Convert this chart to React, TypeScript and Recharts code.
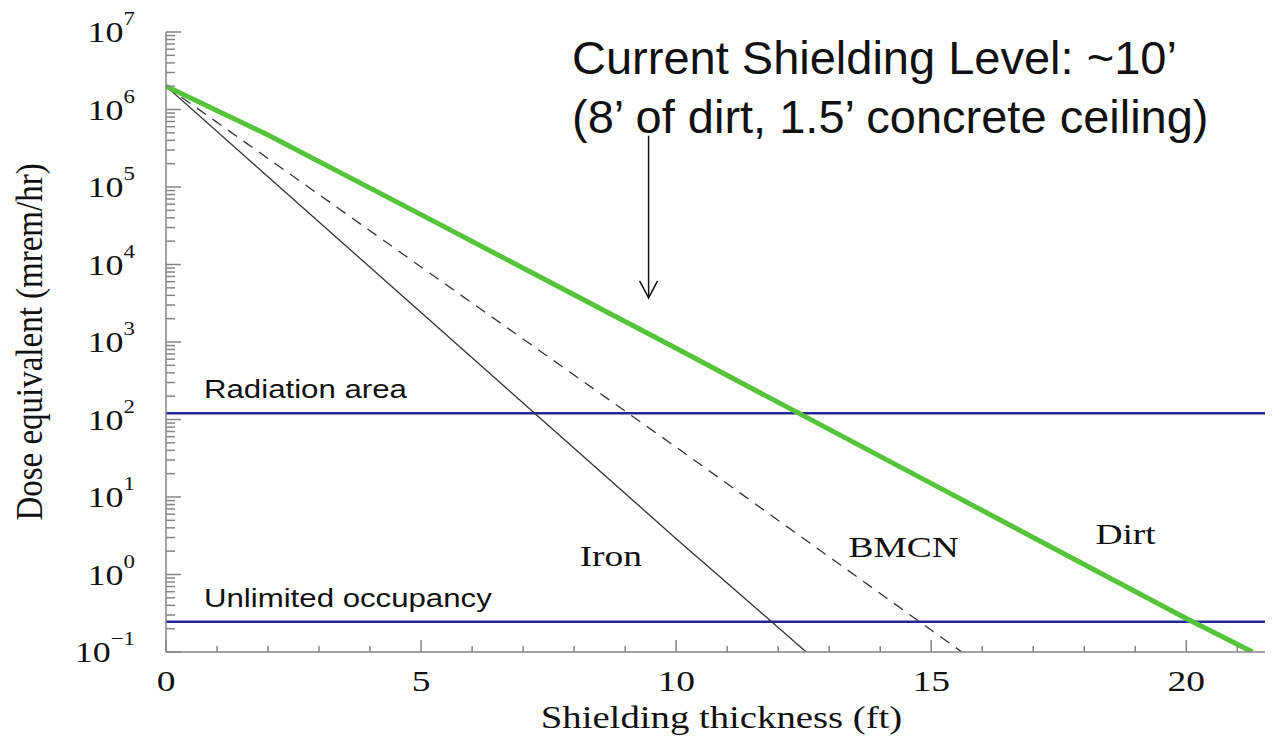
import { LineChart, Line, XAxis, YAxis, ReferenceLine, ReferenceDot } from "recharts"

// Dose equivalent (mrem/hr) behind each shield material, by thickness (ft)
const ironFt = [0, 5, 10, 12.55]
const ironDose = [2.0e6, 2.4e3, 2.9, 0.1]
const bmcnFt = [0, 5, 10, 15.6]
const bmcnDose = [2.0e6, 9.3e3, 44, 0.1]
const dirtFt = [0, 2, 5, 10, 15, 20, 21.3]
const dirtDose = [2.0e6, 4.7e5, 4.4e4, 830, 15, 0.27, 0.1]

// regulatory dose-rate levels
const radiationArea = 120
const unlimitedOccupancy = 0.245

// current shielding marker
const currentFt = 9.46
const arrowFrom = 4.6e5
const arrowTo = 3.7e3

const xTicks = [0, 1, 2, 3, 4, 5, 6, 7, 8, 9, 10, 11, 12, 13, 14, 15, 16, 17, 18, 19, 20, 21]
const xLabelTicks = [0, 5, 10, 15, 20]
const decades = [-1, 0, 1, 2, 3, 4, 5, 6, 7]
const mantissas = [1, 2, 3, 4, 5, 6, 7, 8, 9]

const yTicks: number[] = []
decades.forEach((d, i) => {
  const list = i === decades.length - 1 ? [1] : mantissas
  list.forEach((m) => yTicks.push(Number((m * Math.pow(10, d)).toPrecision(3))))
})

const toRows = (ft: number[], dose: number[]) => ft.map((x, i) => ({ x, dose: dose[i] }))
const iron = toRows(ironFt, ironDose)
const bmcn = toRows(bmcnFt, bmcnDose)
const dirt = toRows(dirtFt, dirtDose)

const AXIS = "#858585"
const INK = "#111"
const SERIF = "'Liberation Serif', 'Times New Roman', serif"
const SANS = "'Liberation Sans', Arial, sans-serif"
const STRETCH = 1.25

function YTick(props: any) {
  const { x, y, payload } = props
  const e = Math.log10(payload.value)
  const exp = Math.round(e)
  const major = Math.abs(e - exp) < 1e-6
  return (
    <g>
      <line x1={x} x2={x + (major ? 15 : 9)} y1={y} y2={y} stroke={AXIS} strokeWidth={1.5} />
      {major && (
        <text
          transform={`translate(${x - 31} ${y + 10}) scale(${STRETCH - 0.05} 1)`}
          textAnchor="end"
          fontFamily={SERIF}
          fontSize={30}
          fill={INK}
        >
          10
          <tspan dy={-17} fontSize={19}>
            {exp < 0 ? `\u2212${-exp}` : exp}
          </tspan>
        </text>
      )}
    </g>
  )
}

function BottomTick(props: any) {
  const { x, y, payload } = props
  const major = xLabelTicks.includes(payload.value)
  return (
    <g>
      <line x1={x} x2={x} y1={y} y2={y - (major ? 12 : 6)} stroke={AXIS} strokeWidth={1.5} />
      {major && (
        <text
          transform={`translate(${x} ${y + 39}) scale(${STRETCH} 1)`}
          textAnchor="middle"
          fontFamily={SERIF}
          fontSize={30}
          fill={INK}
        >
          {payload.value}
        </text>
      )}
    </g>
  )
}

function TopTick(props: any) {
  const { x, y, payload } = props
  const major = xLabelTicks.includes(payload.value)
  return <line x1={x} x2={x} y1={y} y2={y + (major ? 11 : 6)} stroke={AXIS} strokeWidth={1.5} />
}

const serifLabel = (text: string) => (props: any) => (
  <text
    transform={`translate(${props.cx} ${props.cy}) scale(${STRETCH} 1)`}
    textAnchor="middle"
    fontFamily={SERIF}
    fontSize={30}
    fill={INK}
  >
    {text}
  </text>
)

const levelLabel = (text: string) => (props: any) => (
  <text
    transform={`translate(${props.viewBox.x + 38} ${props.viewBox.y - 15}) scale(1.2 1)`}
    fontFamily={SANS}
    fontSize={26}
    fill={INK}
  >
    {text}
  </text>
)

const arrowHead = (props: any) => (
  <polyline
    points={`${props.cx - 9},${props.cy - 17} ${props.cx},${props.cy} ${props.cx + 9},${props.cy - 17}`}
    fill="none"
    stroke={INK}
    strokeWidth={1.5}
  />
)

export default function App() {
  return (
    <div style={{ position: "relative", width: 1265, height: 739 }}>
      <LineChart width={1265} height={739} margin={{ top: 24, right: 0, bottom: 0, left: 0 }}>
        <XAxis
          type="number"
          dataKey="x"
          domain={[0, 21.7]}
          allowDataOverflow
          ticks={xTicks}
          interval={0}
          tick={BottomTick}
          tickLine={false}
          tickSize={0}
          tickMargin={0}
          height={95}
          axisLine={{ stroke: AXIS, strokeWidth: 1.5 }}
          label={{
            content: (p: any) => (
              <text
                transform={`translate(${p.viewBox.x + p.viewBox.width / 2 + 2} ${p.viewBox.y + 76}) scale(${STRETCH} 1)`}
                textAnchor="middle"
                fontFamily={SERIF}
                fontSize={31}
                fill={INK}
              >
                Shielding thickness (ft)
              </text>
            ),
          }}
        />
        <XAxis
          xAxisId="top"
          orientation="top"
          type="number"
          dataKey="x"
          domain={[0, 21.7]}
          allowDataOverflow
          ticks={xTicks}
          interval={0}
          tick={TopTick}
          tickLine={false}
          tickSize={0}
          tickMargin={0}
          height={0}
          axisLine={{ stroke: AXIS, strokeWidth: 1.5 }}
        />
        <YAxis
          type="number"
          scale="log"
          domain={[0.1, 1e7]}
          allowDataOverflow
          ticks={yTicks}
          interval={0}
          tick={YTick}
          tickLine={false}
          tickSize={0}
          tickMargin={0}
          width={158}
          axisLine={{ stroke: AXIS, strokeWidth: 1.5 }}
          label={{
            content: (p: any) => (
              <text
                transform={`translate(34 ${p.viewBox.y + p.viewBox.height / 2}) scale(1.15 1) rotate(-90)`}
                textAnchor="middle"
                fontFamily={SERIF}
                fontSize={33}
                fill={INK}
              >
                Dose equivalent (mrem/hr)
              </text>
            ),
          }}
        />

        <ReferenceLine y={radiationArea} stroke="#25249a" strokeWidth={2.5} label={{ content: levelLabel("Radiation area") }} />
        <ReferenceLine
          y={unlimitedOccupancy}
          stroke="#25249a"
          strokeWidth={2.5}
          label={{ content: levelLabel("Unlimited occupancy") }}
        />

        <Line data={iron} dataKey="dose" type="linear" stroke="#333" strokeWidth={1.3} dot={false} isAnimationActive={false} />
        <Line
          data={bmcn}
          dataKey="dose"
          type="linear"
          stroke="#333"
          strokeWidth={1.3}
          strokeDasharray="11 8"
          dot={false}
          isAnimationActive={false}
        />
        <Line data={dirt} dataKey="dose" type="linear" stroke="#56c43a" strokeWidth={5} dot={false} isAnimationActive={false} />

        <ReferenceDot x={8.72} y={1.28} r={0} shape={serifLabel("Iron")} />
        <ReferenceDot x={14.46} y={1.67} r={0} shape={serifLabel("BMCN")} />
        <ReferenceDot x={18.81} y={2.45} r={0} shape={serifLabel("Dirt")} />

        <ReferenceLine
          segment={[
            { x: currentFt, y: arrowFrom },
            { x: currentFt, y: arrowTo },
          ]}
          stroke={INK}
          strokeWidth={1.5}
        />
        <ReferenceDot x={currentFt} y={arrowTo} r={0} shape={arrowHead} />
      </LineChart>
      <div
        style={{
          position: "absolute",
          left: 564,
          top: 20,
          fontFamily: SANS,
          fontSize: 47,
          lineHeight: "59px",
          color: INK,
          whiteSpace: "nowrap",
        }}
      >
        Current Shielding Level: ~10’
        <br />
        (8’ of dirt, 1.5’ concrete ceiling)
      </div>
    </div>
  )
}
